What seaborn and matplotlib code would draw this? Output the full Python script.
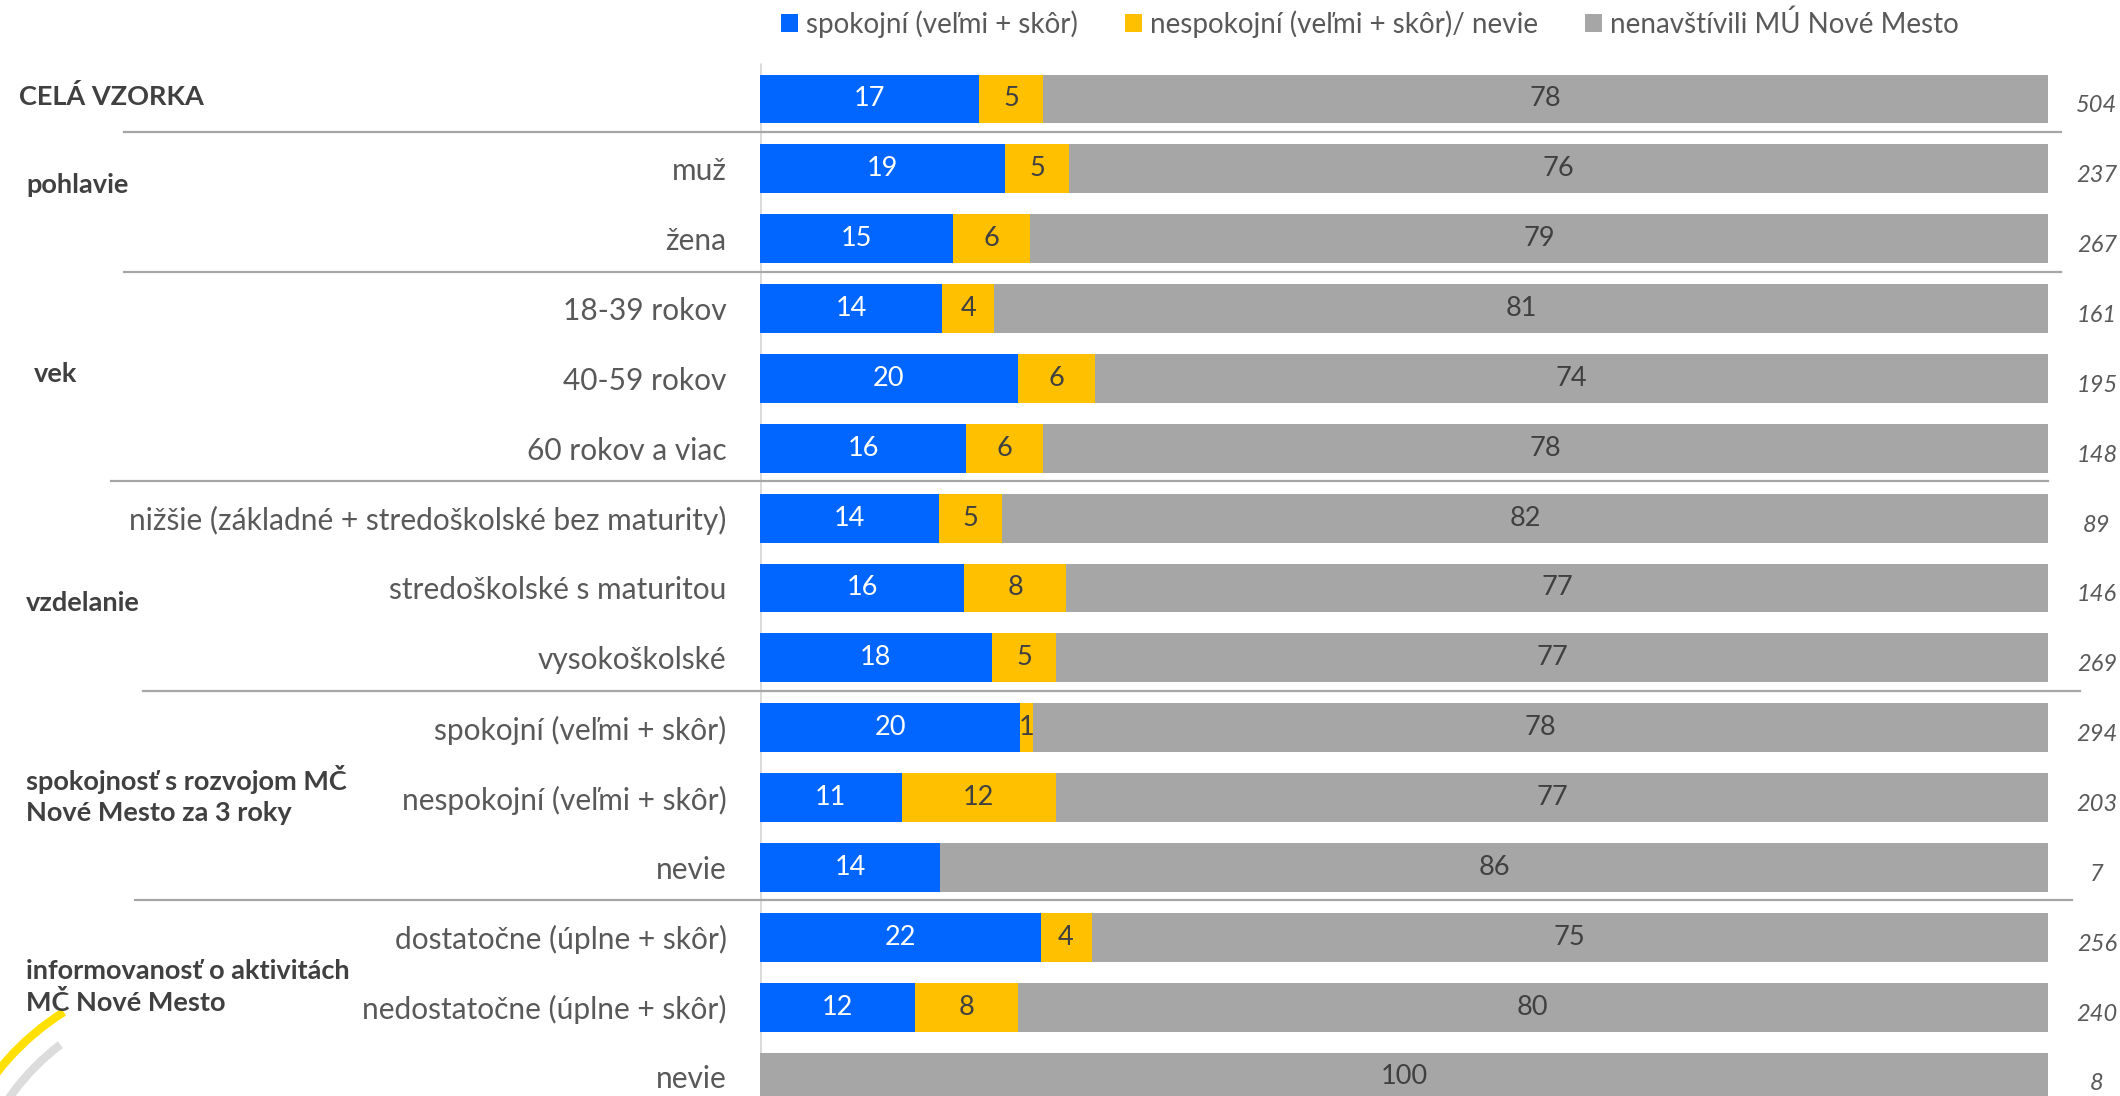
import numpy as np
import pandas as pd
import matplotlib.pyplot as plt
import matplotlib.patches as mpatches
import matplotlib.transforms as mtransforms
import seaborn as sns

# --- data ---
row_labels = ["", "muž", "žena", "18-39 rokov", "40-59 rokov", "60 rokov a viac",
              "nižšie (základné + stredoškolské bez maturity)", "stredoškolské s maturitou",
              "vysokoškolské", "spokojní (veľmi + skôr)", "nespokojní (veľmi + skôr)", "nevie",
              "dostatočne (úplne + skôr)", "nedostatočne (úplne + skôr)", "nevie"]
spokojni = [17, 19, 15, 14, 20, 16, 14, 16, 18, 20, 11, 14, 22, 12, 0]
nespokojni = [5, 5, 6, 4, 6, 6, 5, 8, 5, 1, 12, 0, 4, 8, 0]
nenavstivili = [78, 76, 79, 81, 74, 78, 82, 77, 77, 78, 77, 86, 75, 80, 100]
n_counts = [504, 237, 267, 161, 195, 148, 89, 146, 269, 294, 203, 7, 256, 240, 8]
group_labels = ["CELÁ VZORKA", "pohlavie", "vek", "vzdelanie",
                "spokojnosť s rozvojom MČ\nNové Mesto za 3 roky",
                "informovanosť o aktivitách\nMČ Nové Mesto"]
group_pos = [-0.03, 1.23, 3.94, 7.21, 9.96, 12.71]
series_names = ["spokojní (veľmi + skôr)", "nespokojní (veľmi + skôr)/ nevie",
                "nenavštívili MÚ Nové Mesto"]

BLUE, YELLOW, GREY = "#0066FF", "#FFC000", "#A6A6A6"
TXT = "#595959"

plt.rcParams["font.family"] = ["Lato", "DejaVu Sans"]

df = pd.DataFrame({"pos": range(len(row_labels)), "s": spokojni, "n": nespokojni, "g": nenavstivili})
tot = df[["s", "n", "g"]].sum(axis=1)
for c in ["s", "n", "g"]:
    df[c + "_w"] = df[c] / tot * 100
df["c1"] = df["s_w"]
df["c2"] = df["s_w"] + df["n_w"]
df["c3"] = df["c2"] + df["g_w"]

fig = plt.figure(figsize=(21.2, 10.96), dpi=100)
ax = fig.add_axes([760 / 2120, 0, 1288 / 2120, 1])
order = list(range(len(row_labels)))
sns.barplot(data=df, x="c3", y="pos", orient="h", order=order, color=GREY, saturation=1,
            width=0.7, linewidth=0, ax=ax, label=series_names[2])
sns.barplot(data=df, x="c2", y="pos", orient="h", order=order, color=YELLOW, saturation=1,
            width=0.7, linewidth=0, ax=ax, label=series_names[1])
sns.barplot(data=df, x="c1", y="pos", orient="h", order=order, color=BLUE, saturation=1,
            width=0.7, linewidth=0, ax=ax, label=series_names[0])
h, l = ax.get_legend_handles_labels()
if ax.get_legend() is not None:
    ax.get_legend().remove()

ax.set_xlim(0, 100)
ax.set_ylim(14.272, -1.417)
ax.set_xticks([])
ax.set_yticks(order)
ax.set_yticklabels(row_labels, fontsize=21.5, color=TXT)
ax.tick_params(axis="y", length=0, pad=24)
ax.set_xlabel("")
ax.set_ylabel("")
for sp in ax.spines.values():
    sp.set_visible(False)
ax.vlines(0, -0.52, 14.4, color="#d9d9d9", lw=2, zorder=0.5)

# segment values
for i, r in df.iterrows():
    segs = [(r["s"], 0, r["s_w"], "white"), (r["n"], r["s_w"], r["n_w"], "#404040"),
            (r["g"], r["c2"], r["g_w"], "#404040")]
    for val, start, w, col in segs:
        if val > 0:
            ax.text(start + w / 2, i, f"{int(val)}", ha="center", va="center",
                    fontsize=19.5, color=col)
    ax.text(103.8, i + 0.1, str(n_counts[i]), ha="center", va="center", fontsize=17,
            style="italic", color=TXT, clip_on=False)

# group separators
for after, lpx, rpx in [(0, 124, 2061), (2, 124, 2061), (5, 111, 2048), (8, 143, 2080), (11, 135, 2072)]:
    ax.plot([(lpx - 760) / 12.88, (rpx - 760) / 12.88], [after + 0.47] * 2, color="#a6a6a6",
            lw=1.6, clip_on=False, zorder=0.5)

# group labels
tr = mtransforms.blended_transform_factory(fig.transFigure, ax.transData)
for lab, y, xp in zip(group_labels, group_pos, [19, 26, 34, 26, 26, 26]):
    ax.text(xp / 2120, y, lab, transform=tr, ha="left", va="center", fontsize=19.5,
            fontweight="bold", color="#404040", linespacing=1.35)

# legend
fig.legend(h[::-1], l[::-1], loc="center", bbox_to_anchor=(1370 / 2120, 1 - 24 / 1096), ncol=3,
           frameon=False, fontsize=20, handlelength=0.6, handleheight=0.6, handletextpad=0.3,
           columnspacing=1.7, labelcolor=TXT)

# logo fragment bottom-left
deco = fig.add_axes([0, 0, 1, 1], zorder=-1)
deco.set_xlim(0, 2120)
deco.set_ylim(1096, 0)
deco.axis("off")
deco.add_patch(mpatches.Arc((200, 1230), 514, 514, theta1=205, theta2=238, color="#FFE000", lw=6))
deco.add_patch(mpatches.Arc((200, 1230), 464, 464, theta1=200, theta2=233, color="#dcdcdc", lw=6))

fig.savefig("out.png", dpi=100)
